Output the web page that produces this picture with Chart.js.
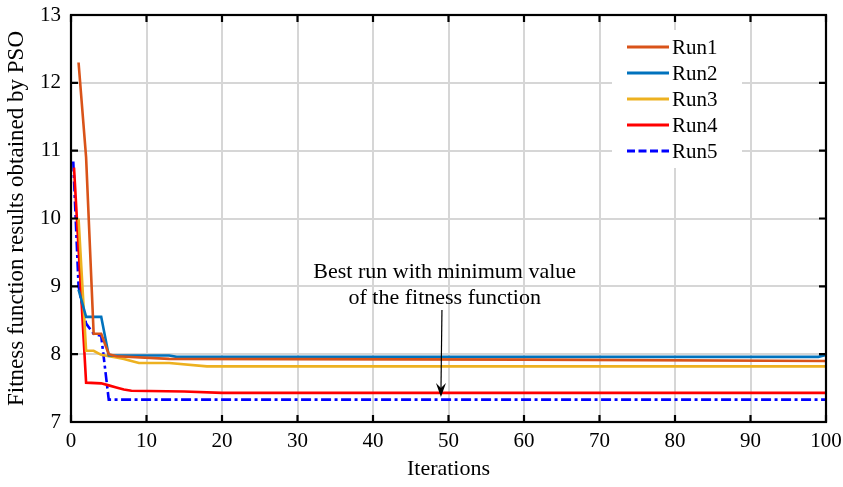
<!DOCTYPE html>
<html>
<head>
<meta charset="utf-8">
<script src="https://cdn.jsdelivr.net/npm/chart.js@4/dist/chart.umd.min.js"></script>
<style>
  html, body { margin: 0; padding: 0; background: #fff; }
  #wrap { width: 843px; height: 487px; }
</style>
</head>
<body>
<div id="wrap"><canvas id="psoChart" width="843" height="487"></canvas></div>
<script>
// Fitness per iteration for each PSO run (iteration, value)
const run1Iter = [1, 2, 3, 4, 5, 6, 13, 60, 100];
const run1Fit  = [12.3, 10.9, 8.3, 8.3, 8.0, 7.97, 7.93, 7.92, 7.90];

const run2Iter = [1, 2, 4, 5, 13, 14, 99, 100];
const run2Fit  = [8.95, 8.55, 8.55, 7.98, 7.98, 7.96, 7.96, 7.99];

const run3Iter = [1, 2, 3, 4, 5, 6, 7, 8, 9, 13, 18, 100];
const run3Fit  = [10.0, 8.05, 8.05, 7.99, 7.97, 7.95, 7.93, 7.9, 7.87, 7.87, 7.82, 7.82];

const run4Iter = [0.4, 2, 4, 5, 6, 7, 8, 15, 20, 100];
const run4Fit  = [10.75, 7.58, 7.57, 7.54, 7.51, 7.48, 7.46, 7.45, 7.43, 7.43];

const run5Iter = [0.3, 1, 2, 3, 4, 5, 100];
const run5Fit  = [10.84, 9.0, 8.45, 8.3, 8.27, 7.33, 7.33];

const runLabels = ['Run1', 'Run2', 'Run3', 'Run4', 'Run5'];

const yTicks = [7, 8, 9, 10, 11, 12, 13];
const xTicks = [0, 10, 20, 30, 40, 50, 60, 70, 80, 90, 100];

// arrow annotation pointing at the best run
const noteLines = ['Best run with minimum value', 'of the fitness function'];
const noteIter = 49.5;
const noteTextY = [9.21, 8.83];
const arrowIter = 49;
const arrowFrom = 8.65;
const arrowTo = 7.37;

const serif = '"Liberation Serif", "Times New Roman", serif';

function pts(xs, ys) {
    return xs.map((x, i) => ({ x: x, y: ys[i] }));
}

function line(label, xs, ys, color, dash) {
    return {
        label: label,
        data: pts(xs, ys),
        borderColor: color,
        backgroundColor: color,
        borderWidth: 2.6,
        borderDash: dash || [],
        pointRadius: 0,
        tension: 0,
        fill: false
    };
}

// box, inward ticks, legend and arrow note (MATLAB look)
const decor = {
    id: 'decor',
    afterDatasetsDraw(chart) {
        const ctx = chart.ctx;
        const a = chart.chartArea;
        const xs = chart.scales.x, ys = chart.scales.y;
        const tl = 7;
        ctx.save();
        ctx.strokeStyle = '#000';
        ctx.lineWidth = 2.2;
        ctx.beginPath();
        xTicks.forEach(v => {
            const px = xs.getPixelForValue(v);
            ctx.moveTo(px, a.bottom); ctx.lineTo(px, a.bottom - tl);
            ctx.moveTo(px, a.top); ctx.lineTo(px, a.top + tl);
        });
        yTicks.forEach(v => {
            const py = ys.getPixelForValue(v);
            ctx.moveTo(a.left, py); ctx.lineTo(a.left + tl, py);
            ctx.moveTo(a.right, py); ctx.lineTo(a.right - tl, py);
        });
        ctx.stroke();
        ctx.strokeRect(a.left, a.top, a.right - a.left, a.bottom - a.top);

        // legend
        const lx = a.right - 214, ly = a.top + 15;
        ctx.fillStyle = '#fff';
        ctx.fillRect(lx, ly, 130, 138);
        ctx.font = '21px ' + serif;
        ctx.textBaseline = 'middle';
        ctx.textAlign = 'left';
        chart.data.datasets.forEach((ds, i) => {
            const y = ly + 17 + i * 26;
            ctx.strokeStyle = ds.borderColor;
            ctx.lineWidth = 2.8;
            ctx.setLineDash(ds.borderDash.length ? [8, 3.5] : []);
            ctx.beginPath();
            ctx.moveTo(lx + 15, y);
            ctx.lineTo(lx + 57, y);
            ctx.stroke();
            ctx.setLineDash([]);
            ctx.fillStyle = '#000';
            ctx.fillText(ds.label, lx + 60, y + 1);
        });

        // note text and arrow
        ctx.font = '22px ' + serif;
        ctx.textAlign = 'center';
        ctx.fillStyle = '#000';
        noteLines.forEach((t, i) => {
            ctx.fillText(t, xs.getPixelForValue(noteIter), ys.getPixelForValue(noteTextY[i]));
        });
        const ax = xs.getPixelForValue(arrowIter);
        const y0 = ys.getPixelForValue(arrowFrom), y1 = ys.getPixelForValue(arrowTo);
        ctx.strokeStyle = '#000';
        ctx.lineWidth = 1.2;
        ctx.beginPath();
        ctx.moveTo(ax + 1, y0);
        ctx.lineTo(ax, y1 - 6);
        ctx.stroke();
        ctx.beginPath();
        ctx.moveTo(ax, y1);
        ctx.lineTo(ax - 5, y1 - 14);
        ctx.lineTo(ax, y1 - 9);
        ctx.lineTo(ax + 5, y1 - 14);
        ctx.closePath();
        ctx.fill();
        ctx.restore();
    }
};

const ctx = document.getElementById('psoChart').getContext('2d');
const psoChart = new Chart(ctx, {
    type: 'line',
    data: {
        datasets: [
            line(runLabels[0], run1Iter, run1Fit, '#D95319'),
            line(runLabels[1], run2Iter, run2Fit, '#0072BD'),
            line(runLabels[2], run3Iter, run3Fit, '#EDB120'),
            line(runLabels[3], run4Iter, run4Fit, '#FF0000'),
            line(runLabels[4], run5Iter, run5Fit, '#0000FF', [10, 3.5, 3, 3.5])
        ]
    },
    options: {
        responsive: false,
        animation: false,
        layout: { padding: { top: 15, right: 17, left: 0, bottom: 0 } },
        plugins: {
            legend: { display: false },
            tooltip: { enabled: false }
        },
        scales: {
            x: {
                type: 'linear',
                min: 0,
                max: 100,
                afterBuildTicks: s => { s.ticks = xTicks.map(v => ({ value: v })); },
                afterFit: s => { s.height = 65; s.paddingLeft = 0; s.paddingRight = 0; },
                grid: { color: '#d6d6d6', lineWidth: 2, drawTicks: false },
                border: { display: false },
                ticks: { color: '#000', font: { family: serif, size: 21 }, padding: 7, maxRotation: 0 },
                title: { display: true, text: 'Iterations', color: '#000', font: { family: serif, size: 22 }, padding: { top: 0, bottom: 5 } }
            },
            y: {
                min: 7,
                max: 13,
                afterBuildTicks: s => { s.ticks = yTicks.map(v => ({ value: v })); },
                afterFit: s => { s.width = 71; s.paddingTop = 0; s.paddingBottom = 0; },
                grid: { color: '#d6d6d6', lineWidth: 2, drawTicks: false },
                border: { display: false },
                ticks: { color: '#000', font: { family: serif, size: 21 }, padding: 10 },
                title: { display: true, text: 'Fitness function results obtained by PSO', color: '#000', font: { family: serif, size: 23 }, padding: { top: 3, bottom: 0 } }
            }
        }
    },
    plugins: [decor]
});
</script>
</body>
</html>
